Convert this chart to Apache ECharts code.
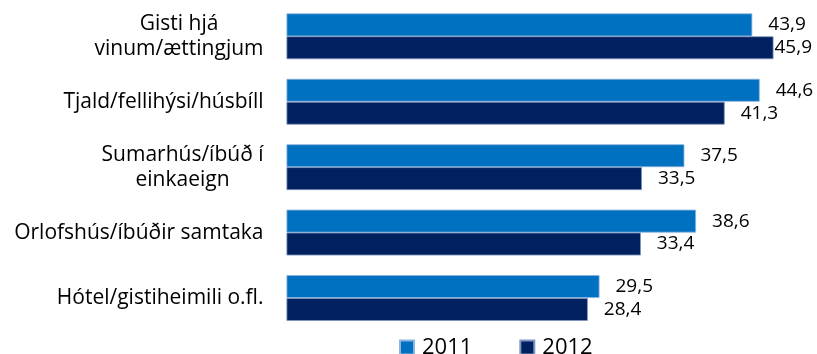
<!DOCTYPE html>
<html>
<head>
<meta charset="utf-8">
<script src="https://cdn.jsdelivr.net/npm/echarts@6/dist/echarts.min.js"></script>
<style>
html,body{margin:0;padding:0;background:#fff;}
#chart{width:817px;height:354px;}
</style>
</head>
<body>
<div id="chart"></div>
<script>
var categories = [
  'Gisti hjá\nvinum/ættingjum',
  'Tjald/fellihýsi/húsbíll',
  'Sumarhús/íbúð í\neinkaeign',
  'Orlofshús/íbúðir samtaka',
  'Hótel/gistiheimili o.fl.'
];
var seriesNames = ['2011', '2012'];
var values2011 = [43.9, 44.6, 37.5, 38.6, 29.5];
var values2012 = [45.9, 41.3, 33.5, 33.4, 28.4];

var FONT = '"Open Sans"';
var chart = echarts.init(document.getElementById('chart'), null, {renderer: 'canvas'});

function fmt(v) { return String(v.toFixed(1)).replace('.', ','); }

function buildData(vals, seriesIdx) {
  return vals.map(function (v, i) {
    var item = {value: v};
    // the label that would overflow the right edge sits tight against its bar
    if (seriesIdx === 1 && i === 0) item.label = {distance: 1};
    return item;
  });
}

var option = {
  animation: false,
  grid: {left: 286.5, top: 3.6, width: 531.8, height: 327.1, containLabel: false},
  xAxis: {
    type: 'value', min: 0, max: 50,
    show: false
  },
  yAxis: {
    type: 'category',
    data: categories,
    inverse: true,
    axisLine: {show: false},
    axisTick: {show: false},
    axisLabel: {
      margin: 23,
      fontFamily: FONT,
      fontSize: 21,
      color: '#000',
      lineHeight: 25,
      formatter: function (val) {
        return val.split('\n').map(function (l) { return '{c|' + l + '}'; }).join('\n');
      },
      rich: {
        c: {align: 'center', fontFamily: FONT, fontSize: 21, color: '#000', lineHeight: 25}
      }
    }
  },
  legend: {
    data: seriesNames,
    left: 399,
    top: 336.5,
    padding: 0,
    itemWidth: 14,
    itemHeight: 14,
    itemGap: 47,
    icon: 'rect',
    textStyle: {fontFamily: FONT, fontSize: 22, color: '#000', padding: [0, 0, 0, 3]}
  },
  series: [
    {
      name: seriesNames[0], type: 'bar',
      data: buildData(values2011, 0),
      barCategoryGap: '30%', barGap: '0%',
      itemStyle: {color: '#0070C0', borderColor: '#8db3e0', borderWidth: 0.8},
      label: {show: true, position: 'right', distance: 16, fontFamily: FONT, fontSize: 19, color: '#000',
        formatter: function (p) { return fmt(p.value); }}
    },
    {
      name: seriesNames[1], type: 'bar',
      data: buildData(values2012, 1),
      barCategoryGap: '30%', barGap: '0%',
      itemStyle: {color: '#002060', borderColor: '#7f96bf', borderWidth: 0.8},
      label: {show: true, position: 'right', distance: 16, fontFamily: FONT, fontSize: 19, color: '#000',
        formatter: function (p) { return fmt(p.value); }}
    }
  ]
};
chart.setOption(option);
</script>
</body>
</html>
